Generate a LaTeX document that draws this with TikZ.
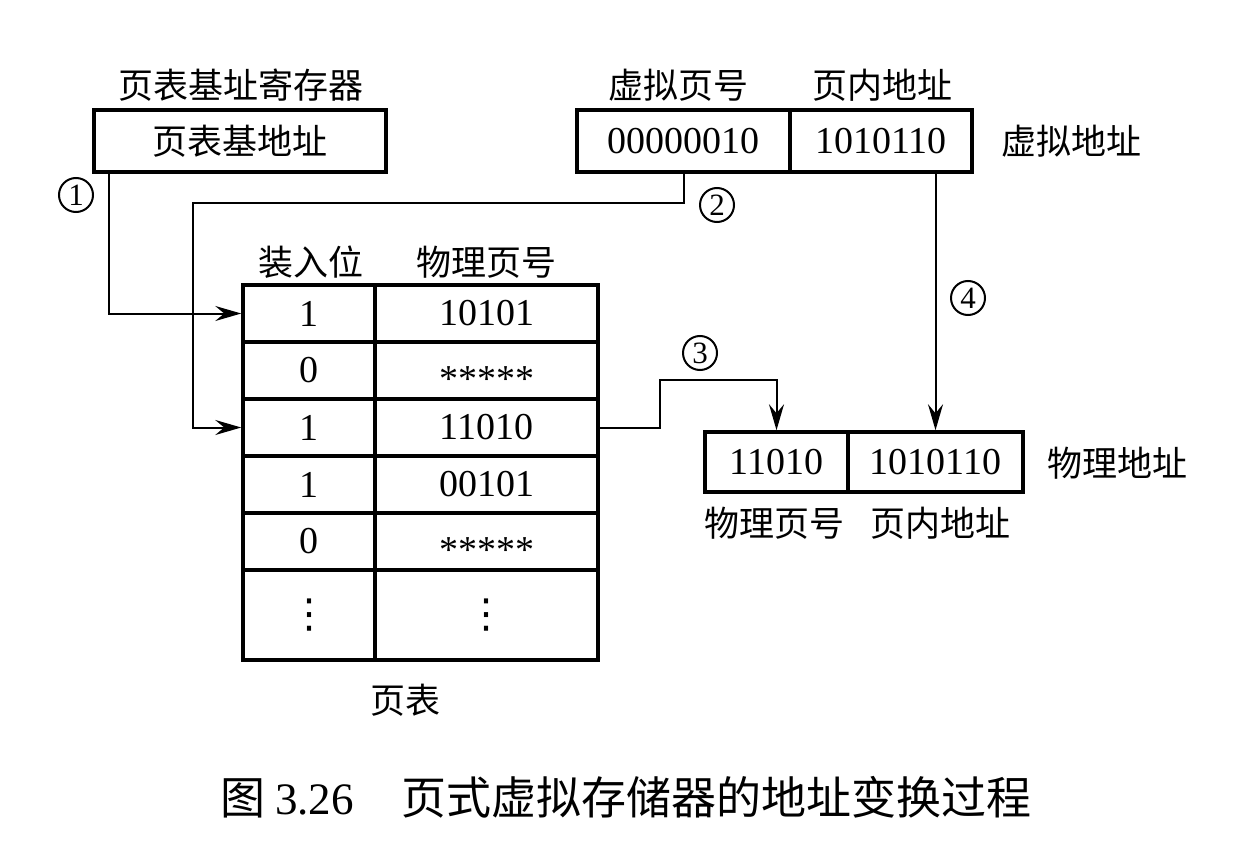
\documentclass[tikz,border=0pt]{standalone}
\usepackage{fontspec}
\setmainfont{Liberation Serif}
\newfontfamily\cjk{Noto Sans CJK SC}
\newfontfamily\dejavu{DejaVu Sans}
\usetikzlibrary{arrows.meta}
\newcommand\numf{\fontsize{38}{40}\selectfont}
\newcommand\cjkf{\cjk\fontsize{35}{40}\selectfont}
\newcommand\stars{\raisebox{-0.55em}[0pt][0pt]{*****}}
\newcommand\vdts{{\dejavu\fontsize{40}{40}\selectfont ⋮}}
\begin{document}
\begin{tikzpicture}[x=1pt,y=-1pt,
  box/.style={draw, line width=3.5pt, inner sep=0pt, font=\numf},
  lab/.style={inner sep=0pt, font=\cjkf},
  circ/.style={circle, draw, line width=2pt, inner sep=0pt, minimum size=34pt, font=\fontsize{31}{32}\selectfont},
  conn/.style={line width=2pt},
  arr/.style={conn, -{Stealth[length=26pt, width=15pt, inset=9pt]}},
  ca/.style={box, minimum width=132pt, minimum height=57pt},
  cb/.style={box, minimum width=223pt, minimum height=57pt}]
\useasboundingbox[fill=white] (0,0) rectangle (1246,842);

% page table base register
\node[lab] (regt) at (241,85) {页表基址寄存器};
\node[box, minimum width=292pt, minimum height=62pt, font=\cjkf] (reg) at (240,141) {页表基地址};

% virtual address
\node[box, minimum width=213pt, minimum height=62pt] (vpn) at (683.5,141) {00000010};
\node[box, minimum width=182pt, minimum height=62pt] (off) at (881,141) {1010110};
\node[lab] (vpnt) at (678,85) {虚拟页号};
\node[lab] (offt) at (882,85) {页内地址};
\node[lab] (va) at (1071,141) {虚拟地址};

% page table
\node[lab] (ha) at (311,262) {装入位};
\node[lab] (hb) at (486,262) {物理页号};
\node[ca] (r1a) at (309,313.5) {1};
\node[cb] (r1b) at (486.5,313.5) {10101};
\node[ca] (r2a) at (309,370.5) {0};
\node[cb] (r2b) at (486.5,370.5) {\stars};
\node[ca] (r3a) at (309,427.5) {1};
\node[cb] (r3b) at (486.5,427.5) {11010};
\node[ca] (r4a) at (309,484.5) {1};
\node[cb] (r4b) at (486.5,484.5) {00101};
\node[ca] (r5a) at (309,541.5) {0};
\node[cb] (r5b) at (486.5,541.5) {\stars};
\node[ca, minimum height=90pt] (r6a) at (309,615) {\vdts};
\node[cb, minimum height=90pt] (r6b) at (486.5,615) {\vdts};
\node[lab] (pt) at (405,700) {页表};

% physical address
\node[box, minimum width=143pt, minimum height=60pt] (ppn) at (776.5,462) {11010};
\node[box, minimum width=175pt, minimum height=60pt] (poff) at (935.5,462) {1010110};
\node[lab] (pa) at (1117,463) {物理地址};
\node[lab] (ppnt) at (774,523) {物理页号};
\node[lab] (pofft) at (940,523) {页内地址};

% connectors
\coordinate (b2) at (193,203);
\coordinate (b3) at (660,380);
\draw[arr] ([xshift=17pt]reg.south west) |- (r1a.west);
\draw[arr] (vpn.south) |- (b2) |- (r3a.west);
\draw[arr] (r3b.east) -| (b3) -| (ppn.north);
\draw[arr] (poff.north |- off.south) -- (poff.north);

% step labels
\node[circ] (s1) at (76,195) {1};
\node[circ] (s2) at (717,205) {2};
\node[circ] (s3) at (700,353) {3};
\node[circ] (s4) at (968,298) {4};

% caption
\node[inner sep=0pt, font=\fontsize{45}{50}\selectfont] (cap) at (626,797)
  {{\cjk 图}\hspace{10pt}3.26\hspace{48pt}{\cjk 页式虚拟存储器的地址变换过程}};
\end{tikzpicture}
\end{document}
